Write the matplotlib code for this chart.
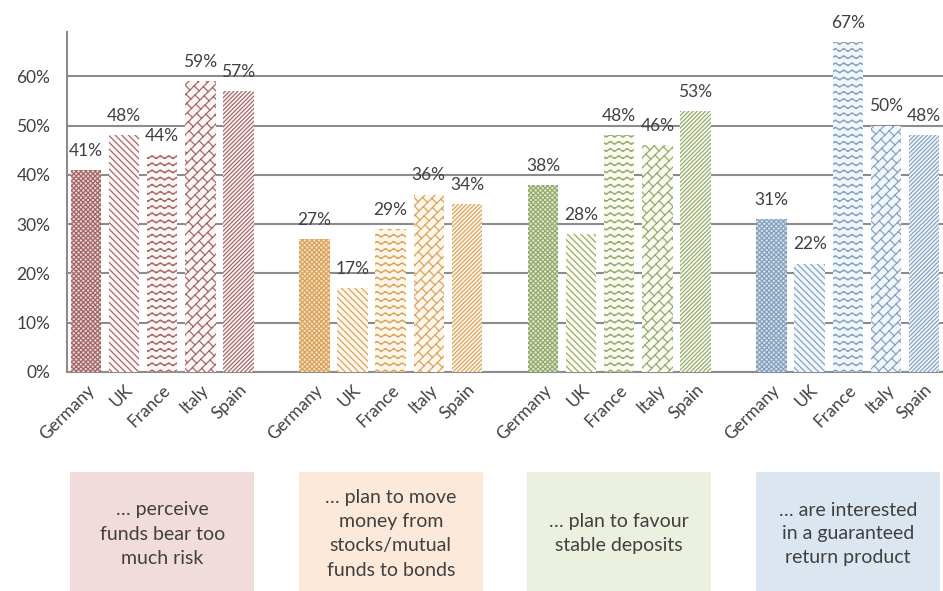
import numpy as np
import matplotlib
matplotlib.use("Agg")
import matplotlib.pyplot as plt
import matplotlib.hatch as mhatch
from matplotlib.path import Path
from matplotlib.patches import Rectangle
from matplotlib.transforms import blended_transform_factory

# data
countries = ['Germany', 'UK', 'France', 'Italy', 'Spain']
risk = [41, 48, 44, 59, 57]
bonds = [27, 17, 29, 36, 34]
deposits = [38, 28, 48, 46, 53]
guaranteed = [31, 22, 67, 50, 48]
box_texts = ['… perceive\nfunds bear too\nmuch risk',
             '… plan to move\nmoney from\nstocks/mutual\nfunds to bonds',
             '… plan to favour\nstable deposits',
             '… are interested\nin a guaranteed\nreturn product']

line_cols = ['#A06464', '#D9A15C', '#93A86C', '#82A0BE']
face_cols = ['#FDF4F4', '#FEF6E8', '#F8FBEE', '#F0F6FC']
solid_cols = ['#E9D2D2', '#F4E0BE', '#DFE8CA', '#D3DFEB']
box_cols = ['#F2DCDB', '#FDE9D9', '#EBF1DE', '#DCE6F1']


# wave hatch, hooked onto '|'
class WaveHatch(mhatch.HatchPatternBase):
    def __init__(self, hatch, density):
        n = hatch.count('|')
        self.rows = 14 * n
        self.pts = 97
        self.num_vertices = (self.rows + 2) * self.pts if n else 0

    def set_vertices_and_codes(self, vertices, codes):
        x = np.linspace(0, 1, self.pts)
        for i, k in enumerate(range(-1, self.rows + 1)):
            a = i * self.pts
            vertices[a:a + self.pts, 0] = x
            vertices[a:a + self.pts, 1] = k / self.rows + 0.014 * np.sin(2 * np.pi * 12 * x)
            codes[a:a + self.pts] = Path.LINETO
            codes[a] = Path.MOVETO


# diagonal brick hatch, hooked onto '-'
class BrickHatch(mhatch.HatchPatternBase):
    def __init__(self, hatch, density):
        n = hatch.count('-')
        self.m, self.p = 10, 6
        if n:
            self.num_vertices = (2 * self.m + 1) * 2 + 2 * self.m * (2 * self.p + 3) * 2
        else:
            self.num_vertices = 0

    def set_vertices_and_codes(self, vertices, codes):
        m, p = self.m, self.p
        i = 0
        for k in range(-m, m + 1):
            t = k / m
            for s in (-0.2, 2.2):
                vertices[i] = ((s - t) / 2, (s + t) / 2)
                i += 1
            codes[i - 2] = Path.MOVETO
            codes[i - 1] = Path.LINETO
        for k in range(-m, m):
            off = 0.5 / p if k % 2 else 0.0
            for j in range(-1, 2 * p + 2):
                s = j / p + off
                for t in (k / m, (k + 1) / m):
                    vertices[i] = ((s - t) / 2, (s + t) / 2)
                    i += 1
                codes[i - 2] = Path.MOVETO
                codes[i - 1] = Path.LINETO


mhatch._hatch_types = [BrickHatch if c is mhatch.HorizontalHatch else
                       WaveHatch if c is mhatch.VerticalHatch else c
                       for c in mhatch._hatch_types]

plt.rcParams['font.family'] = ['Lato', 'DejaVu Sans']
plt.rcParams['hatch.linewidth'] = 0.85

hatches = ['xxxxxxx', '\\\\\\\\\\', '|', '-', '////////']
groups = [risk, bonds, deposits, guaranteed]

fig = plt.figure(figsize=(9.43, 5.91), dpi=100)
ax = fig.add_axes([0.071, 0.3706, 0.929, 0.5753])

txt = '#404040'
grid = '#8C8C8C'
fs = 12.5
positions = []
for g, vals in enumerate(groups):
    for i, v in enumerate(vals):
        x = g * 6 + i
        positions.append(x)
        face = solid_cols[g] if i == 0 else face_cols[g]
        b = ax.bar(x, v, width=0.8, color=face, edgecolor=line_cols[g],
                   linewidth=0, hatch=hatches[i], zorder=3)
        ax.bar_label(b, labels=[f'{v}%'], padding=8, color=txt, fontsize=fs)

ax.set_xlim(-0.5, 22.5)
ax.set_ylim(0, 69)
ax.set_yticks(range(0, 61, 10))
ax.set_yticklabels([f'{t}%' for t in range(0, 61, 10)], fontsize=fs, color=txt)
ax.set_xticks(positions)
ax.set_xticklabels(countries * 4, rotation=45, ha='right', va='top',
                   rotation_mode='anchor', fontsize=fs, color=txt)
ax.tick_params(axis='both', length=0)
ax.tick_params(axis='y', pad=12)
ax.tick_params(axis='x', pad=7)
ax.yaxis.grid(True, color=grid, linewidth=1.5, zorder=0)
ax.set_axisbelow(True)
for side in ['top', 'right']:
    ax.spines[side].set_visible(False)
for side in ['left', 'bottom']:
    ax.spines[side].set_color(grid)
    ax.spines[side].set_linewidth(1.5)

# description boxes under each group
trans = blended_transform_factory(ax.transData, fig.transFigure)
for g, label in enumerate(box_texts):
    x0 = g * 6 - 0.42
    x1 = g * 6 + 4.42
    ax.add_patch(Rectangle((x0, 0.0), x1 - x0, 1 - 472 / 591, transform=trans,
                           facecolor=box_cols[g], edgecolor='none', clip_on=False))
    ax.text((x0 + x1) / 2, (1 - 534 / 591), label, transform=trans, ha='center',
            va='center', fontsize=14, color=txt, linespacing=1.5)

fig.savefig('out.png', dpi=100)
